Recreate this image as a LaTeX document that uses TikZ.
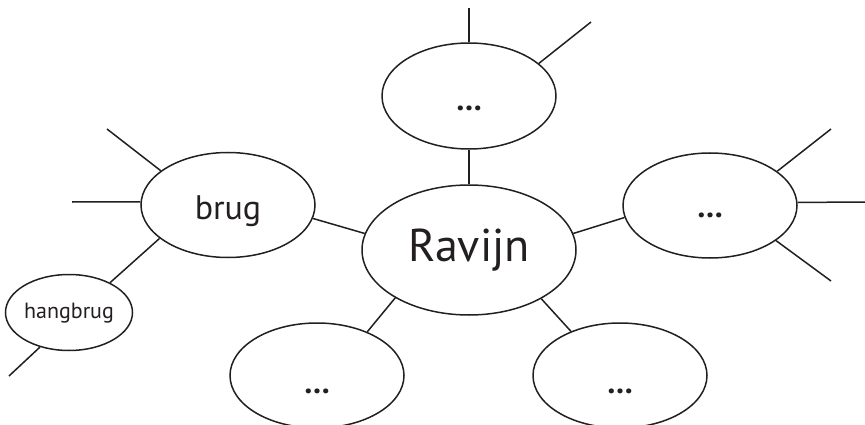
\documentclass[tikz,border=0pt]{standalone}
\usepackage{fontspec}
\setmainfont{PT Sans}
\usetikzlibrary{shapes.geometric}
\definecolor{ink}{HTML}{231F20}
\newcommand{\lowtext}[2]{\smash{\raisebox{-#1pt}{#2}}}
\tikzset{
  bubble/.style={ellipse, draw=ink, line width=1.5pt, inner sep=0pt, text=ink,
    minimum width=174pt, minimum height=105pt, font=\fontsize{32}{32}\selectfont\bfseries},
  conn/.style={draw=ink, line width=1.5pt},
}
\begin{document}
\begin{tikzpicture}[x=1pt,y=-1pt]
\useasboundingbox (0,0) rectangle (865,425);
% nodes
\node[bubble, minimum width=214pt, minimum height=130pt, font=\fontsize{46}{46}\selectfont] (ravijn) at (469,250) {\lowtext{11}{Ravijn}};
\node[bubble, minimum height=106pt] (top) at (469,96) {\lowtext{15}{…}};
\node[bubble] (right) at (710,205.5) {\lowtext{11.5}{…}};
\node[bubble] (bl) at (317,375.5) {\lowtext{18}{…}};
\node[bubble] (br) at (620,375.5) {\lowtext{18}{…}};
\node[bubble, font=\fontsize{34}{34}\selectfont] (brug) at (228,205) {\lowtext{14}{brug}};
\node[bubble, minimum width=126pt, minimum height=76pt, font=\fontsize{22}{22}\selectfont] (hang) at (69,312.5) {\lowtext{6}{hangbrug}};
% free ends
\coordinate (t1) at (469,8);
\coordinate (t2) at (591,22);
\coordinate (r1) at (831,129);
\coordinate (r2) at (865,202);
\coordinate (r3) at (831,281);
\coordinate (b1) at (107,129);
\coordinate (b2) at (72,202);
\coordinate (h1) at (9,376);
% connectors
\draw[conn] (ravijn.90) -- (top.270);
\draw[conn] (ravijn.9) -- (right.188);
\draw[conn] (ravijn.171) -- (brug.351.4);
\draw[conn] (ravijn.213.3) -- (bl.41);
\draw[conn] (ravijn.326.7) -- (br.138.4);
\draw[conn] (top.90) -- (t1);
\draw[conn] (top.25.6) -- (t2);
\draw[conn] (right.27.2) -- (r1);
\draw[conn] (right.2) -- (r2);
\draw[conn] (right.332.8) -- (r3);
\draw[conn] (brug.153.1) -- (b1);
\draw[conn] (brug.178) -- (b2);
\draw[conn] (brug.206.9) -- (hang.36.4);
\draw[conn] (hang.230.9) -- (h1);
\end{tikzpicture}
\end{document}
